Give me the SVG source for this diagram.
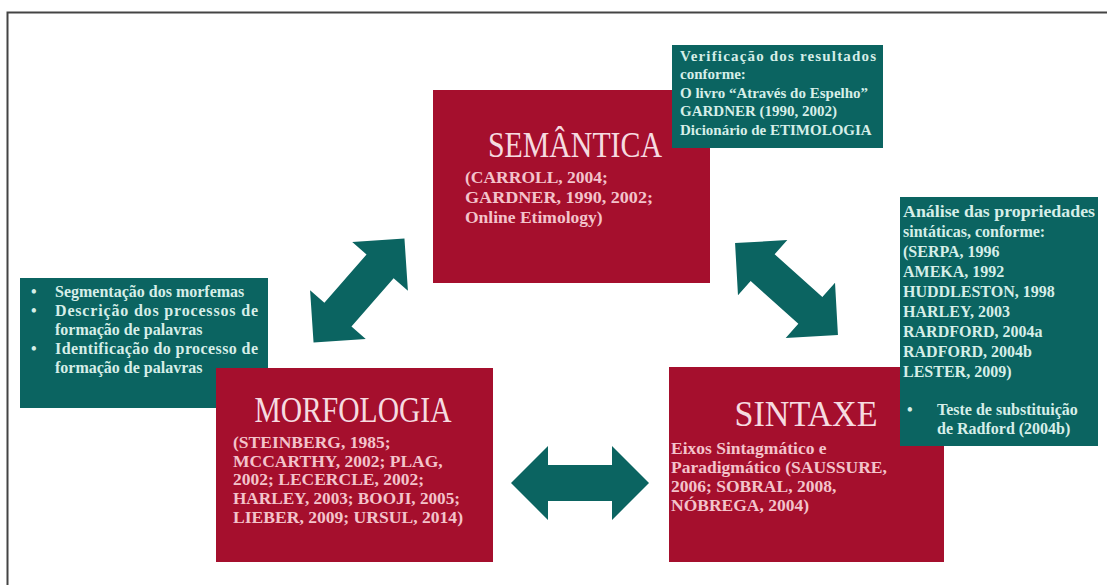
<svg xmlns="http://www.w3.org/2000/svg" width="1107" height="585" viewBox="0 0 1107 585">
<style>
.red{fill:#a50f2d}
.teal{fill:#0b6461}
.title{font-family:"Liberation Serif",serif;font-size:35px;fill:#f6dbe0;text-anchor:middle}
.body{font-family:"Liberation Serif",serif;font-size:17.5px;font-weight:bold;fill:#f3c3cb}
.small{font-family:"Liberation Serif",serif;font-size:16px;font-weight:bold;fill:#d6eee8}
.top{font-size:15px}
.arrow{fill:#0b6461}
</style>
<defs>
<polygon id="dbl" points="-69,0 -32,-37 -32,-18 32,-18 32,-37 69,0 32,37 32,18 -32,18 -32,37"/>
</defs>
<rect width="1107" height="585" fill="#ffffff"/>
<path d="M7.5,585 V12.5 H1107" fill="none" stroke="#444" stroke-width="2"/>

<g id="semantica">
<rect class="red" x="433" y="90" width="277" height="193"/>
<text class="title" x="575" y="157" textLength="174" lengthAdjust="spacingAndGlyphs">SEMÂNTICA</text>
<text class="body" x="465" y="183">(CARROLL, 2004;</text>
<text class="body" x="465" y="203" textLength="188" lengthAdjust="spacingAndGlyphs">GARDNER, 1990, 2002;</text>
<text class="body" x="465" y="223">Online Etimology)</text>
</g>

<g id="nota-semantica">
<rect class="teal" x="672" y="45" width="211" height="103"/>
<text class="small top" x="680" y="61" textLength="196" lengthAdjust="spacing">Verificação dos resultados</text>
<text class="small top" x="680" y="79">conforme:</text>
<text class="small top" x="680" y="98">O livro “Através do Espelho”</text>
<text class="small top" x="680" y="116">GARDNER (1990, 2002)</text>
<text class="small top" x="680" y="135">Dicionário de ETIMOLOGIA</text>
</g>

<g id="nota-morfologia">
<rect class="teal" x="20" y="278" width="248" height="130"/>
<text class="small" x="31" y="297">•</text>
<text class="small" x="55" y="297">Segmentação dos morfemas</text>
<text class="small" x="31" y="316">•</text>
<text class="small" x="55" y="316" textLength="203" lengthAdjust="spacing">Descrição dos processos de</text>
<text class="small" x="55" y="335">formação de palavras</text>
<text class="small" x="31" y="354">•</text>
<text class="small" x="55" y="354" textLength="203" lengthAdjust="spacing">Identificação do processo de</text>
<text class="small" x="55" y="373">formação de palavras</text>
</g>

<g id="morfologia">
<rect class="red" x="216" y="368" width="277" height="194"/>
<text class="title" x="353" y="422" textLength="197" lengthAdjust="spacingAndGlyphs">MORFOLOGIA</text>
<text class="body" x="233" y="448">(STEINBERG, 1985;</text>
<text class="body" x="233" y="467">MCCARTHY, 2002; PLAG,</text>
<text class="body" x="233" y="485">2002; LECERCLE, 2002;</text>
<text class="body" x="233" y="504" textLength="227" lengthAdjust="spacingAndGlyphs">HARLEY, 2003; BOOJI, 2005;</text>
<text class="body" x="233" y="523" textLength="230" lengthAdjust="spacingAndGlyphs">LIEBER, 2009; URSUL, 2014)</text>
</g>

<g id="sintaxe">
<rect class="red" x="669" y="367" width="275" height="195"/>
<text class="title" x="806" y="426" textLength="143" lengthAdjust="spacingAndGlyphs">SINTAXE</text>
<text class="body" x="671" y="454">Eixos Sintagmático e</text>
<text class="body" x="671" y="473">Paradigmático (SAUSSURE,</text>
<text class="body" x="671" y="492">2006; SOBRAL, 2008,</text>
<text class="body" x="671" y="511">NÓBREGA, 2004)</text>
</g>

<g id="nota-sintaxe">
<rect class="teal" x="900" y="197" width="198" height="249"/>
<text class="small" x="903" y="217" textLength="192" lengthAdjust="spacingAndGlyphs">Análise das propriedades</text>
<text class="small" x="903" y="237">sintáticas, conforme:</text>
<text class="small" x="903" y="257">(SERPA, 1996</text>
<text class="small" x="903" y="277">AMEKA, 1992</text>
<text class="small" x="903" y="297">HUDDLESTON, 1998</text>
<text class="small" x="903" y="317">HARLEY, 2003</text>
<text class="small" x="903" y="337">RARDFORD, 2004a</text>
<text class="small" x="903" y="357">RADFORD, 2004b</text>
<text class="small" x="903" y="377">LESTER, 2009)</text>
<text class="small" x="907" y="415">•</text>
<text class="small" x="937" y="415">Teste de substituição</text>
<text class="small" x="937" y="434">de Radford (2004b)</text>
</g>

<g id="connectors">
<use href="#dbl" class="arrow" transform="translate(359,290.5) rotate(-48.8)"/>
<use href="#dbl" class="arrow" transform="translate(786.5,289) rotate(41.8)"/>
<use href="#dbl" class="arrow" transform="translate(580,483)"/>
</g>
</svg>
